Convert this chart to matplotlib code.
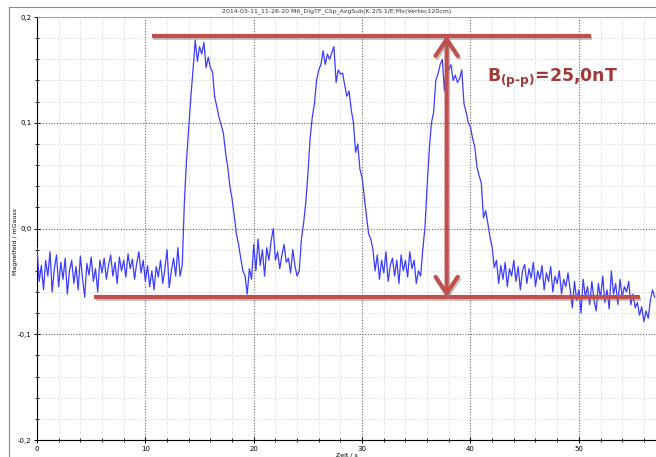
import numpy as np
import matplotlib
matplotlib.use("Agg")
import matplotlib.pyplot as plt
from matplotlib.lines import Line2D
from matplotlib.patches import FancyArrowPatch
from matplotlib.ticker import MultipleLocator, FuncFormatter
import matplotlib.patheffects as pe

# magnetic field trace, one sample every 0.2 s (mGauss)
dt = 0.2
field = [
    -0.018, -0.050, -0.035, -0.058, -0.030, -0.045, -0.022, -0.060, -0.038, -0.025,
    -0.055, -0.032, -0.048, -0.028, -0.062, -0.040, -0.030, -0.052, -0.036, -0.058,
    -0.026, -0.047, -0.065, -0.033, -0.044, -0.027, -0.050, -0.038, -0.060, -0.030,
    -0.042, -0.028, -0.048, -0.035, -0.025, -0.045, -0.032, -0.052, -0.027, -0.040,
    -0.030, -0.046, -0.024, -0.038, -0.029, -0.048, -0.033, -0.022, -0.042, -0.030,
    -0.050, -0.035, -0.055, -0.040, -0.058, -0.036, -0.046, -0.030, -0.052, -0.038,
    -0.020, -0.056, -0.040, -0.028, -0.045, -0.018, -0.045, -0.035, 0.025, 0.065,
    0.095, 0.125, 0.150, 0.178, 0.158, 0.172, 0.165, 0.176, 0.152, 0.162,
    0.152, 0.148, 0.124, 0.115, 0.105, 0.098, 0.090, 0.072, 0.058, 0.040,
    0.028, 0.012, -0.005, -0.015, -0.028, -0.040, -0.045, -0.062, -0.038, -0.048,
    -0.015, -0.040, -0.010, -0.035, -0.020, -0.045, -0.018, -0.030, -0.012, 0.000,
    -0.030, -0.022, -0.038, -0.025, -0.015, -0.032, -0.028, -0.042, -0.020, -0.035,
    -0.045, -0.040, -0.010, 0.005, 0.024, 0.052, 0.085, 0.105, 0.118, 0.140,
    0.150, 0.155, 0.168, 0.155, 0.165, 0.160, 0.166, 0.172, 0.138, 0.150,
    0.146, 0.147, 0.135, 0.125, 0.130, 0.112, 0.100, 0.072, 0.080, 0.056,
    0.048, 0.030, 0.012, -0.005, -0.010, -0.020, -0.040, -0.025, -0.048, -0.030,
    -0.042, -0.022, -0.050, -0.035, -0.028, -0.045, -0.030, -0.052, -0.025, -0.040,
    -0.030, -0.046, -0.022, -0.038, -0.030, -0.052, -0.040, -0.045, -0.020, 0.001,
    0.040, 0.075, 0.100, 0.110, 0.140, 0.146, 0.155, 0.160, 0.130, 0.158,
    0.150, 0.155, 0.140, 0.145, 0.138, 0.142, 0.150, 0.118, 0.110, 0.100,
    0.096, 0.085, 0.077, 0.058, 0.050, 0.043, 0.010, 0.017, 0.005, -0.008,
    -0.018, -0.037, -0.030, -0.052, -0.035, -0.048, -0.032, -0.055, -0.038, -0.045,
    -0.030, -0.050, -0.036, -0.058, -0.040, -0.034, -0.052, -0.038, -0.047, -0.032,
    -0.055, -0.040, -0.048, -0.035, -0.058, -0.042, -0.050, -0.036, -0.060, -0.045,
    -0.052, -0.040, -0.062, -0.048, -0.055, -0.042, -0.058, -0.075, -0.050, -0.068,
    -0.058, -0.080, -0.048, -0.065, -0.055, -0.072, -0.050, -0.068, -0.078, -0.052,
    -0.066, -0.045, -0.070, -0.058, -0.076, -0.040, -0.062, -0.052, -0.072, -0.048,
    -0.065, -0.055, -0.060, -0.050, -0.072, -0.062, -0.075, -0.070, -0.082, -0.074,
    -0.088, -0.078, -0.085, -0.068, -0.058, -0.065,
]
time = np.arange(len(field)) * dt

# peak-to-peak annotation
top_level, bottom_level = 0.1825, -0.065
top_span = (10.6, 51.1)
bottom_span = (5.3, 55.6)
arrow_x = 37.8
label = "B$_{\\mathregular{(p\u2010p)}}$=25,0nT"
title = "2014-03-11_11-26-20 M6_DigTF_Clip_AvgSub(K:2/S:1/E:Mx(Vertec120cm)"

fig = plt.figure(figsize=(6.56, 4.57), dpi=100)
ax = fig.add_axes([37 / 656, 1 - 440 / 457, 1 - 37 / 656, (440 - 17) / 457])

ax.plot(time, field, color="#3c3cff", lw=0.9, zorder=3)
ax.set_xlim(0, 57.12)
ax.set_ylim(-0.2, 0.2)

ax.xaxis.set_major_locator(MultipleLocator(10))
ax.xaxis.set_minor_locator(MultipleLocator(2))
ax.yaxis.set_major_locator(MultipleLocator(0.1))
ax.yaxis.set_minor_locator(MultipleLocator(0.02))
ax.yaxis.set_major_formatter(FuncFormatter(lambda v, p: f"{v:.1f}".replace(".", ",")))
ax.grid(which="major", color="#666666", ls=(0, (1, 1.5)), lw=0.8)
ax.grid(which="minor", color="#d8d8d8", ls=(0, (2, 2)), lw=0.6)
ax.tick_params(which="major", direction="inout", length=4, width=0.7, labelsize=5, pad=2)
ax.tick_params(which="minor", direction="inout", length=2.5, width=0.6)
ax.spines["right"].set_visible(False)
ax.spines["top"].set_color("#999999")
ax.spines["top"].set_linewidth(0.6)
ax.set_xlabel("Zeit / s", fontsize=4.5, labelpad=1)
ax.set_ylabel("Magnetfeld / mGauss", fontsize=4.5)
ax.yaxis.set_label_coords(-19 / 619, 0.47)

red = "#c0504d"
shadow = [pe.SimpleLineShadow(offset=(1, -1.5), shadow_color="gray", alpha=0.45), pe.Normal()]
ax.plot(top_span, [top_level] * 2, color=red, lw=3, solid_capstyle="butt", zorder=5,
        path_effects=shadow)
ax.plot(bottom_span, [bottom_level] * 2, color=red, lw=3, solid_capstyle="butt", zorder=5,
        path_effects=shadow)
arr = FancyArrowPatch((arrow_x, bottom_level), (arrow_x, top_level),
                      arrowstyle="<->,head_length=0.6,head_width=0.4", mutation_scale=20,
                      color=red, lw=3, shrinkA=0, shrinkB=0, zorder=6,
                      path_effects=shadow)
ax.add_patch(arr)
ax.text(41.5, 0.142, label, color="#9e3a38", fontsize=12.5, fontweight="bold",
        ha="left", va="center", zorder=7)

# outer frame and title bar of the measurement window
fy = 1 - 7 / 457
fig.add_artist(Line2D([9 / 656, 9 / 656], [0, fy], color="#888888", lw=0.8))
fig.add_artist(Line2D([9 / 656, 1], [fy, fy], color="#888888", lw=0.8))
fig.text(337 / 656, 1 - 11 / 457, title, fontsize=4.5, ha="center", va="center", color="#333333")

fig.savefig("out.png", dpi=100)
